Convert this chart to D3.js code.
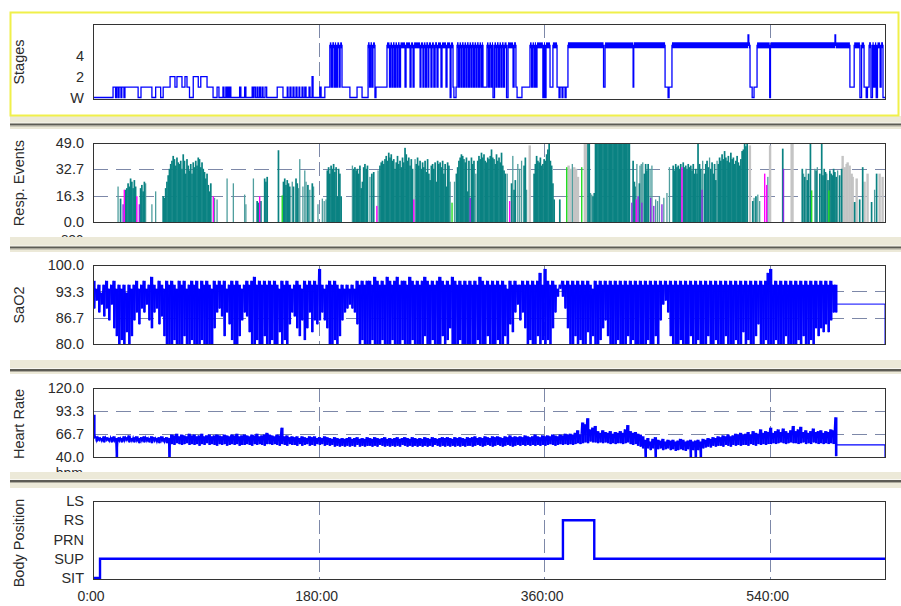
<!DOCTYPE html>
<html><head><meta charset="utf-8">
<script src="https://cdn.jsdelivr.net/npm/d3@7"></script>
<style>
html,body{margin:0;padding:0;background:#fff;}
svg{display:block;font-family:"Liberation Sans",Arial,sans-serif;}
</style></head><body>
<svg id="c" width="901" height="606"></svg>
<script>
// ---------------- DATA ----------------
const totalMinutes = 632;
const timeTicks = [0, 180, 360, 540];
const timeTickLabels = ["0:00", "180:00", "360:00", "540:00"];
const panelTitles = ["Stages", "Resp. Events", "SaO2", "Heart Rate", "Body Position"];

// Hypnogram steps [minute, level]  (0=W,1,2,... 5 = thick band, 6 = spike)
const stageTickValues = [0, 2, 4];
const stageTickLabels = ["W", "2", "4"];
const stageSteps = [[0,0],[16,1],[18,0],[18.8,1],[20,0],[20.8,1],[22.3,0],[23,1],[24.7,0],[25.5,1],[36,0],[38.3,1],[47,0],[50,1],[54,0],[56,1],[61.5,2],[65.4,1],[67,2],[71,1],[73.4,2],[75,1],[77,0],[80,2],[84,1],[86,2],[91,1],[95.8,0],[99,1],[100.5,0],[103.7,1],[104.5,0],[106,1],[106.7,0],[107.7,1],[108.4,0],[109.3,1],[110,0],[117,1],[118,0],[121,1],[122,0],[127,1],[127.7,0],[128.5,1],[129.7,0],[131,1],[131.7,0],[133,1],[133.7,0],[135,1],[135.7,0],[137.3,1],[138.6,0],[147,1],[151.6,0],[155,1],[155.6,0],[157.2,1],[158,0],[159.6,1],[160.4,0],[162,1],[162.8,0],[164.4,1],[165,0],[166.8,1],[167.6,0],[169,1],[170,0],[172.4,1],[173.2,0],[174.8,2],[175.6,0],[181,1],[182,0],[185,1],[189,5],[190.2,1],[191,5],[192.3,1],[193,5],[194,1],[195,5],[196.4,1],[197.2,5],[198.7,1],[205,0],[210.7,1],[214.7,0],[219.5,5],[220.7,1],[221.5,5],[222.6,1],[223.4,5],[225,0],[225.8,1],[234.6,5],[236.6,1],[237.4,5],[238.6,1],[239.4,5],[240.6,1],[241.4,5],[242.6,1],[243.4,5],[244.6,1],[245.4,5],[249,1],[249.8,5],[253,1],[253.8,5],[255.4,1],[256.2,5],[261,1],[261.7,5],[263.3,1],[264,5],[265.3,1],[266,5],[267.3,1],[268,5],[269.7,1],[270.5,5],[272,1],[273,5],[274.5,1],[275.3,5],[277.7,1],[278.5,5],[281.7,1],[282.5,5],[285,0],[285.7,5],[287.3,1],[288,0],[289.7,1],[290.5,5],[291.7,1],[292.5,5],[293.7,1],[294.5,5],[295.7,1],[296.5,5],[297.7,1],[298.5,5],[299.7,1],[300.5,5],[301.7,1],[302.5,5],[303.7,1],[304.5,5],[305.7,1],[306.5,5],[307.7,1],[308.5,5],[309.7,1],[310.5,5],[311.2,1],[314.4,5],[315.6,1],[316.4,5],[317.6,1],[318.4,5],[319.2,0],[320.4,5],[321.6,1],[322.4,5],[323.6,1],[324.4,5],[325.6,1],[326.4,5],[327.6,1],[328.4,5],[330,0],[331.2,5],[335.2,1],[336,5],[337.5,1],[338.4,0],[342.3,1],[348.7,5],[350,1],[350.8,5],[352,1],[352.7,5],[353.5,1],[354.3,5],[359,0],[359.9,5],[360.7,0],[361.5,5],[364.7,1],[367,5],[370.3,1],[371.9,0],[372.7,1],[374.3,0],[375,1],[376.7,0],[377.5,1],[379,5],[407.4,1],[408.6,5],[431,1],[431.5,5],[456.5,1],[458.9,0],[459.7,1],[462,5],[522.7,6],[523.3,5],[524.3,1],[526,0],[527.5,1],[529.9,5],[540,0],[540.6,5],[592.1,6],[592.6,5],[604,1],[607.4,5],[612,0],[613.3,5],[615.3,1],[617,0],[618,1],[619.3,5],[620.8,0],[622,5],[623,1],[624,5],[625,0],[626,5],[628.1,1],[628.9,5],[630.4,0],[632,0]];

// Respiratory events [minute, duration sec], one array per event type
const respTicks = [0, 16.3, 32.7, 49.0];
const obstructiveEvents = [[22,14.5],[26,20],[27,21],[28,24],[29,22],[30,27],[31,25],[32,21],[33,26],[34,22],[38,21],[39,23],[40,19],[41,25],
[56,16],[57,15],[58,21],[59,25],[60,29],[61,33],[62,36],[63,38],[64,41],[65,39],[66,35],[67,40],[68,37],[69,36],[70,38],[71,33],[72,42],[73,38],[74,30],[75,39],[76,35],[77,32],[78,36],[79,30],[80,37],[81,34],[82,38],[83,35],[84,40],[85,39],[86,34],[87,37],[88,33],[89,31],[90,27],[91,30],[92,23],[93,19],[94,24],
[131,13],[132,12],[134,13],[137,27],[138,25],[139,28],
[148,44.5],[152,25],[153,27],[154,23],[155,26],[156,24],[157,22],[160,22],[162,27],[163,24],[171.5,23],[175,24],
[187,32],[188,34],[189,30],[190,35],[191,33],[192,36],[193,31],[194,34],[195,16],[196,33],[197,30],[198,16],
[208,33],[209,34],[210,32],[211,33],[212,30],[213,35],[214,21],[215,25],[216,34],[217,36],[218,33],[219,35],[222.5,30],[224,31],
[229,35],[230,37],[231,38],[232,36],[233,39],[234,41],[235,38],[236,43],[237,40],[238,42],[239,38],[240,39],[241,33],[242,37],[243,41],[244,36],[245,38],[246,34],[247,40],[248,37],[249,46],[250,42],[251,38],[252,40],[253,35],[254,39],[255,33],
[258,36],[259,40],[260,35],[261,38],[262,33],[263,37],[264,34],[265,38],[266,31],[267,39],[268,30],[269,26],[270,35],[271,36],[272,33],[273,37],[274,25],[275,38],[276,36],[277,37],[278,34],[279,38],[280,30],[281,36],[282,22],[283,37],[284,35],
[290,30],[291,34],[292,38],[293,40],[294,42],[295,41],[296,39],[297,37],[298,40],[299,19],[300,38],[302,40],[303,36],[304,38],
[307,38],[308,41],[309,39],[310,43],[311,40],[312,42],[313,38],[314,37],[315,40],[316,39],[317,41],[318,45],[319,40],[320,39],[321,36],[322,42],[323,38],[324,40],[325,37],[326,43],[327,35],[328,32],[329,30],
[334,24],[336,20],[337,26],[344,35],[345,40],
[352,30],[353,36],[354,41],[355,38],[356,37],[357,40],[358,35],[359,36],[360,39],[361,38],[362,42],[363,45],[364,49],[365,38],[366,35],[367,24],[368,14],[372.5,14],
[395,49],[396,49],[399,16],[400,18],[401,49],[402,49],[403,49],[404,49],[405,49],[406,49],[407,49],[408,49],[409,49],[410,49],[411,49],[412,49],[413,49],[414,49],[415,49],[416,49],[417,49],[418,49],[419,49],[420,49],[421,49],[422,49],[423,49],[424,49],[425,49],[426,49],[427,49],[428,49],
[431,38],[432,25],[432.5,22],[436,24],[440,30],[441,36],[442,32],[443,36],
[463,35],[464,32],[465,36],[466,34],[467,35],[468,33],[469,36],[471,37],[472,34],[473,35],[474,33],[475,36],[476,34],[477,35],[478,32],[479,36],[480,30],[481,33],[482,30],
[482.8,49],[484,36],[485,33],[488,30],[489,36],[490,38],[491,34],[493,33],[494,37],[495,30],[496,36],[497,26],
[499,36],[500,40],[501,38],[502,42],[503,39],[504,44],[505,40],[506,38],[507,41],[508,37],[509,43],[510,39],[511,40],[512,36],[513,38],[514,41],[515,37],[516,35],[517,39],[518,44],[519,45],[520,49],[521,47],[522,49],
[526.5,13],[529,16],[550.4,45.5],
[566,33],[568,28],[570,26],[571,30],[572.5,49],[577,32],[580,30],[581.5,49],
[582.5,29],[583.5,33],[584.5,31],[586.5,26],[588,32],[589,30],[590,29],[591,33],[592,31],[593,28],
[595.8,29],[597.4,33],[607.8,12.4],[611.8,14],[614.2,34],[621.3,12.4],[625.3,30]];
const hypopneaEvents = [[20,22],[42,24],[47,11],[50,19],[97,15],[99,14],[107,27],[112,24],[121,17],[122,11],[128,27],[159,25],[164,21],[165,39],[167.5,22],[169,32],[170,25],[173,20],[176,22],[179.5,11],[183,14.5],[184.5,13],[186,14],[207,35],[221,28],[227.5,32],[257,39],[285,25],[288.5,25],[305.5,30],[330.5,30],[335,41],[339,36],[340.5,33],[342,38],[346,20],[382.5,36],[397,18],[398,17],[434,36],[436.5,35],[437.5,36],[438.7,37],[444.5,33],[446,35],[449,14],[450.5,13],[452,16],[455.5,15],[458,18],[460,34],[486.5,38],[492,40],[498,38],[527.5,15],[530.5,17],[532,13],[538.5,28],[567,30],[569,33],[576,33],[578,34],[585.5,30],[594.2,32],[623.7,20]];
const reraEvents = [[348.5,47.5],[379.5,35],[381,33],[384,34],[385.5,33],[387,28],[392.5,49],[393.3,49],[524.2,47.5],[540.3,47.5],[557.5,49],[558.2,49],[598.2,41],[599.8,34],[601.4,36],[602.2,37],[603.8,35],[605.4,30],[606.2,28],[609.4,27],[615.7,25],[618.1,30],[627.7,30],[630.1,28]];
const mixedEvents = [[25,20],[35,16],[96,16],[133,16],[226.5,10],[256,14],[332.5,13],[433.5,14],[470,34],[536,30],[537.6,23]];
const centralEvents = [[24,11],[37,11],[301,15],[430,12],[435,16],[438,12],[445,15],[447.5,10],[454,11],[486,20],[551,33]];
const otherEvents = [[151,16.5],[286.5,12],[378,34],[390,34],[573.5,19.6],[587.2,19.6]];

// SaO2 per 2-minute epoch: highest and lowest reading
const sao2Ticks = [80.0, 86.7, 93.3, 100.0];
const sao2High = [96,94,95,93,95,96,94,95,96,94, 95,94,95,93,95,94,95,96,94,95, 96,94,95,97,95,94,96,95,94,96,
95,96,95,94,96,95,96,94,95,96, 95,96,94,96,95,96,95,94,96,95, 96,95,96,94,95,96,95,96,95,94,
95,96,95,96,97,95,96,95,96,95, 96,95,96,95,94,96,95,96,95,94, 95,96,95,94,96,95,96,95,96,95,
99,95,94,95,96,95,96,95,94,95, 94,95,94,95,94,96,95,96,95,96, 96,95,97,96,95,96,95,97,96,95,
96,97,95,96,96,95,97,96,95,96, 95,96,97,96,95,96,95,96,97,96, 95,96,95,97,96,95,96,95,96,95,
96,95,96,95,97,96,95,96,95,96, 95,96,95,96,95,94,96,95,96,95, 95,96,95,96,95,96,95,96,98,95,
99,96,95,96,95,94,95,96,95,96, 95,96,95,96,95,96,95,96,95,94, 96,95,96,95,96,95,96,95,96,95,
96,95,96,95,96,95,96,95,96,95, 96,95,96,95,96,95,96,95,96,95, 96,95,96,95,96,95,96,95,96,95,
96,95,96,95,96,95,96,95,96,95, 96,95,96,95,96,95,96,95,96,95, 96,95,96,95,96,95,96,95,96,98,
99,95,96,95,96,95,96,95,96,95, 96,95,96,95,96,95,96,95,96,95, 96,95,96,95,96,95,95];
const sao2Low = [89,91,88,90,87,89,86,90,84,82, 80,81,80,83,80,82,86,88,85,89, 88,90,86,84,88,89,85,87,82,80,
80,80,81,80,80,80,82,80,80,81, 80,80,80,81,80,80,80,80,84,88, 89,87,82,88,85,81,80,80,82,86,
88,87,83,80,80,81,80,80,82,80, 80,81,80,80,83,80,81,80,85,88, 87,84,82,86,81,84,88,83,86,85,
86,88,86,84,80,80,81,80,82,86, 88,89,90,89,88,85,80,81,80,80, 80,81,80,80,80,81,80,80,80,81,
80,80,80,81,80,80,80,81,80,80, 80,80,82,80,80,81,80,80,80,82, 80,81,84,80,80,80,81,80,80,80,
80,80,80,81,80,80,80,82,80,80, 80,81,80,80,82,80,85,83,88,90, 86,88,84,80,81,80,80,82,80,81,
80,81,80,84,88,92,94,92,89,84, 80,80,82,80,81,80,80,83,80,82, 80,80,81,84,86,82,80,80,80,81,
80,80,80,82,80,81,80,80,80,80, 80,81,80,80,82,80,86,90,91,88, 82,80,80,80,81,80,80,80,82,80,
80,81,80,80,80,82,80,80,81,80, 80,80,82,80,80,80,81,80,80,83, 80,81,80,80,82,85,80,80,81,80,
80,80,81,80,80,80,82,80,80,80, 80,81,80,82,80,80,81,80,84,82, 84,83,85,83,86,88,88];
const sao2Tail = [[593, 90.1], [632, 90.1], [632, 80]];

// Heart rate per 2-minute epoch: highest and lowest reading (bpm)
const hrTicks = [40.0, 66.7, 93.3, 120.0];
const hrHigh = [89,64,63,62,64,63,62,63,64,62, 63,62,64,63,65,62,63,64,62,63, 64,63,62,64,63,62,63,64,62,63,
62,66,65,67,64,66,65,64,67,65, 66,64,65,67,64,65,66,64,65,66, 65,64,66,65,64,66,65,67,64,65,
66,65,64,66,65,67,64,65,66,68, 66,65,64,66,65,74,64,65,63,64, 63,64,62,64,63,62,64,63,64,62,
63,62,64,63,62,61,63,62,61,62, 61,62,63,61,62,63,61,62,61,63, 62,61,63,62,61,62,63,61,62,61,
62,63,61,62,63,62,61,63,62,61, 62,61,63,62,61,63,62,61,62,63, 62,63,62,61,63,62,63,62,61,63,
62,63,64,62,63,62,64,63,62,64, 63,64,63,62,64,63,65,63,64,63, 64,63,65,64,63,64,66,64,63,65,
64,65,64,66,65,64,66,65,67,66, 67,66,68,71,66,80,78,85,72,74, 76,70,68,71,69,68,70,67,69,68,
70,68,72,77,70,68,69,67,66,64, 60,62,58,61,63,60,59,61,58,60, 59,60,58,59,61,60,58,59,60,58,
59,60,58,61,60,62,61,63,62,64, 63,65,64,66,64,65,67,66,68,66, 67,69,66,70,68,67,72,68,70,69,
74,68,70,72,69,73,70,68,71,76, 70,72,75,69,71,68,70,73,69,70, 71,68,70,69,72,71,86];
const hrLow = [62,58,59,58,57,59,58,57,58,40, 58,57,58,59,57,58,57,58,56,58, 57,58,57,56,58,57,56,58,57,56,
40,55,54,56,55,54,55,56,54,55, 54,55,53,55,54,56,54,55,54,53, 55,54,55,53,54,55,54,55,53,54,
54,55,54,53,55,54,55,54,53,55, 55,54,55,54,53,55,54,53,55,54, 54,53,55,53,54,55,53,54,53,55,
54,55,53,54,53,54,52,53,52,53, 52,53,52,53,52,54,52,53,52,53, 53,52,53,52,54,53,52,53,52,53,
52,53,52,54,53,52,53,52,53,52, 53,52,53,52,53,52,54,53,52,53, 52,53,52,53,52,53,52,53,52,53,
53,52,53,54,53,52,53,54,53,52, 53,54,53,52,53,54,53,52,53,54, 53,54,53,54,53,54,53,54,53,54,
53,54,55,54,53,54,55,54,55,54, 55,54,55,56,55,56,57,56,58,57, 57,56,57,56,57,56,55,56,55,56,
56,55,56,57,55,54,55,53,52,50, 40,50,48,50,40,49,50,48,49,50, 48,49,47,48,49,48,47,49,40,48,
40,48,40,50,51,52,51,53,52,53, 53,52,54,53,52,54,53,54,53,54, 54,53,55,54,53,55,54,55,54,55,
55,56,55,56,57,56,55,56,57,56, 56,55,56,57,55,56,55,57,56,55, 56,55,56,55,56,55,41];
const hrTail = [[593, 54], [632, 54], [632, 40]];

// Body position steps [minute, position index]
const bodyLabels = ["SIT", "SUP", "PRN", "RS", "LS"];
const bodySteps = [[0,0],[5.6,1],[375,3],[400,1],[632,1]];

// ---------------- DRAWING ----------------
const svg = d3.select("#c");
const X0 = 93, X1 = 885;
const x = d3.scaleLinear().domain([0, totalMinutes]).range([X0, X1]);

const P = {
  stages: {top: 24, bottom: 99},
  resp:   {top: 143, bottom: 222},
  sao2:   {top: 265, bottom: 344},
  hr:     {top: 388, bottom: 457},
  body:   {top: 501, bottom: 579}
};
const yStage = d3.scaleLinear().domain([0, 7]).range([97.5, 24.5]);
const yResp  = d3.scaleLinear().domain([0, 49]).range([222, 143]);
const ySao2  = d3.scaleLinear().domain([80, 100]).range([344, 265]);
const yHr    = d3.scaleLinear().domain([40, 120]).range([457, 388]);
const yBody  = d3.scaleLinear().domain([0, 4]).range([578, 501]);

const GRID = "#7d88a8";
const BLUE = "#0000ff";
const FONT = '"Liberation Sans", Arial, sans-serif';

svg.append("rect").attr("width", 901).attr("height", 606).attr("fill", "#fff");

function clip(id, p) {
  svg.append("clipPath").attr("id", id).append("rect")
    .attr("x", X0).attr("y", p.top).attr("width", X1 - X0 + 1).attr("height", p.bottom - p.top + 1);
  return svg.append("g").attr("clip-path", `url(#${id})`);
}
function vGrid(g, p) {
  g.selectAll(null).data(timeTicks.slice(1)).enter().append("line")
    .attr("x1", d => Math.round(x(d)) + 0.5).attr("x2", d => Math.round(x(d)) + 0.5)
    .attr("y1", p.top).attr("y2", p.bottom)
    .attr("stroke", GRID).attr("stroke-width", 1).attr("stroke-dasharray", "14,5");
}
function hGrid(g, y, vals) {
  g.selectAll(null).data(vals).enter().append("line")
    .attr("x1", X0).attr("x2", X1)
    .attr("y1", d => Math.round(y(d)) + 0.5).attr("y2", d => Math.round(y(d)) + 0.5)
    .attr("stroke", GRID).attr("stroke-width", 1).attr("stroke-dasharray", "15,8");
}
function frame(p) {
  svg.append("rect").attr("x", X0 + 0.5).attr("y", p.top + 0.5)
    .attr("width", X1 - X0).attr("height", p.bottom - p.top)
    .attr("fill", "none").attr("stroke", "#333").attr("stroke-width", 1);
}
function yAxis(scale, vals, fmt) {
  const g = svg.append("g").attr("transform", `translate(${X0},0)`)
    .call(d3.axisLeft(scale).tickValues(vals).tickFormat(fmt).tickSize(0).tickPadding(9));
  g.select(".domain").remove();
  g.attr("font-size", null).attr("font-family", null);
  g.selectAll("text").attr("font-size", "14.5px").attr("font-family", FONT).attr("fill", "#2b2b2b");
}
// min/max trace: a range bar per epoch plus a zig-zag through high and low readings
function rangeTrace(g, y, hi, lo, tail, lw) {
  const w = x(2) - x(0);
  g.selectAll(null).data(hi).enter().append("rect")
    .attr("x", (d, i) => x(2 * i)).attr("width", w + 0.1)
    .attr("y", d => y(d)).attr("height", (d, i) => Math.max(0, y(lo[i]) - y(d)))
    .attr("fill", BLUE);
  const pts = [];
  hi.forEach((h, i) => { pts.push([2 * i, h]); pts.push([2 * i + 1, lo[i]]); });
  tail.forEach(d => pts.push(d));
  g.append("path").attr("d", d3.line().x(d => x(d[0])).y(d => y(d[1]))(pts))
    .attr("fill", "none").attr("stroke", BLUE).attr("stroke-width", lw);
}

// --- Stages
{
  const g = clip("cs", P.stages);
  vGrid(g, P.stages);
  const line = d3.line().x(d => x(d[0])).y(d => yStage(d[1])).curve(d3.curveStepAfter);
  const bands = [];
  for (let i = 0; i < stageSteps.length - 1; i++)
    if (stageSteps[i][1] === 5) bands.push([stageSteps[i][0], stageSteps[i + 1][0]]);
  g.selectAll(null).data(bands).enter().append("line")
    .attr("x1", d => x(d[0])).attr("x2", d => x(d[1]))
    .attr("y1", yStage(5)).attr("y2", yStage(5))
    .attr("stroke", BLUE).attr("stroke-width", 6);
  g.append("path").attr("d", line(stageSteps)).attr("fill", "none")
    .attr("stroke", BLUE).attr("stroke-width", 1.3);
  frame(P.stages);
  yAxis(yStage, stageTickValues, (d, i) => stageTickLabels[i]);
}

// --- Resp events
{
  const g = clip("cr", P.resp);
  vGrid(g, P.resp);
  hGrid(g, yResp, [16.3, 32.7]);
  const sets = [
    [reraEvents, "#c4c4c4", 2.4],
    [hypopneaEvents, "#4f9e9e", 1.3],
    [obstructiveEvents, "#0a8282", 1.7],
    [mixedEvents, "#ff00ff", 1.4],
    [centralEvents, "#8a2be2", 1.4],
    [otherEvents, "#22dd22", 1.4]
  ];
  sets.forEach(([data, color, w]) => {
    g.selectAll(null).data(data).enter().append("rect")
      .attr("x", d => x(d[0]) - w / 2).attr("width", w)
      .attr("y", d => yResp(d[1])).attr("height", d => yResp(0) - yResp(d[1]))
      .attr("fill", color);
  });
  frame(P.resp);
  yAxis(yResp, respTicks, d3.format(".1f"));
}

// --- SaO2
{
  const g = clip("co", P.sao2);
  vGrid(g, P.sao2);
  hGrid(g, ySao2, [86.7, 93.3]);
  rangeTrace(g, ySao2, sao2High, sao2Low, sao2Tail, 1);
  frame(P.sao2);
  yAxis(ySao2, sao2Ticks, d3.format(".1f"));
}

// --- Heart rate
{
  const g = clip("ch", P.hr);
  vGrid(g, P.hr);
  hGrid(g, yHr, [66.7, 93.3]);
  rangeTrace(g, yHr, hrHigh, hrLow, hrTail, 1.2);
  frame(P.hr);
  yAxis(yHr, hrTicks, d3.format(".1f"));
}

// --- Body position
{
  const g = clip("cb", P.body);
  vGrid(g, P.body);
  const line = d3.line().x(d => x(d[0])).y(d => yBody(d[1])).curve(d3.curveStepAfter);
  g.append("path").attr("d", line(bodySteps)).attr("fill", "none").attr("stroke", BLUE).attr("stroke-width", 2.4);
  frame(P.body);
  yAxis(yBody, [0, 1, 2, 3, 4], (d) => bodyLabels[d]);
  const ga = svg.append("g").attr("transform", `translate(0,${P.body.bottom})`)
    .call(d3.axisBottom(x).tickValues(timeTicks).tickFormat((d, i) => timeTickLabels[i]).tickSize(0).tickPadding(12));
  ga.select(".domain").remove();
  ga.attr("font-size", null).attr("font-family", null);
  ga.selectAll("text").attr("font-size", "14px").attr("font-family", FONT).attr("fill", "#2b2b2b").attr("dx", -2.5);
}

// units (partly hidden by the splitters)
svg.append("text").attr("x", 83).attr("y", 242.5).attr("text-anchor", "end")
  .attr("font-size", "14px").attr("font-family", FONT).attr("fill", "#2b2b2b").text("sec");
svg.append("text").attr("x", 83).attr("y", 478).attr("text-anchor", "end")
  .attr("font-size", "14px").attr("font-family", FONT).attr("fill", "#2b2b2b").text("bpm");

// panel titles
const titleCenters = [62, 183, 305, 424, 543];
panelTitles.forEach((t, i) => {
  svg.append("text").attr("transform", `translate(24,${titleCenters[i]}) rotate(-90)`)
    .attr("text-anchor", "middle").attr("font-size", "14.5px").attr("font-family", FONT)
    .attr("fill", "#2b2b2b").text(t);
});

// splitters between panels
const splitters = [[116, 129, 123.5], [237, 252, 246.5], [360, 374, 369], [472, 488, 480]];
splitters.forEach(([a, b, d]) => {
  svg.append("rect").attr("x", 10).attr("y", a).attr("width", 891).attr("height", b - a).attr("fill", "#ece9d8");
  svg.append("rect").attr("x", 10).attr("y", d - 1).attr("width", 891).attr("height", 1).attr("fill", "#f8f7f1");
  svg.append("rect").attr("x", 10).attr("y", d).attr("width", 891).attr("height", 2).attr("fill", "#5d5c55");
  svg.append("rect").attr("x", 10).attr("y", d + 2).attr("width", 891).attr("height", 1).attr("fill", "#aca99c");
});

// selection border of the first panel
svg.append("rect").attr("x", 10.5).attr("y", 12.5).attr("width", 888).attr("height", 103)
  .attr("fill", "none").attr("stroke", "#f0f04a").attr("stroke-width", 2);
</script>
</body></html>
